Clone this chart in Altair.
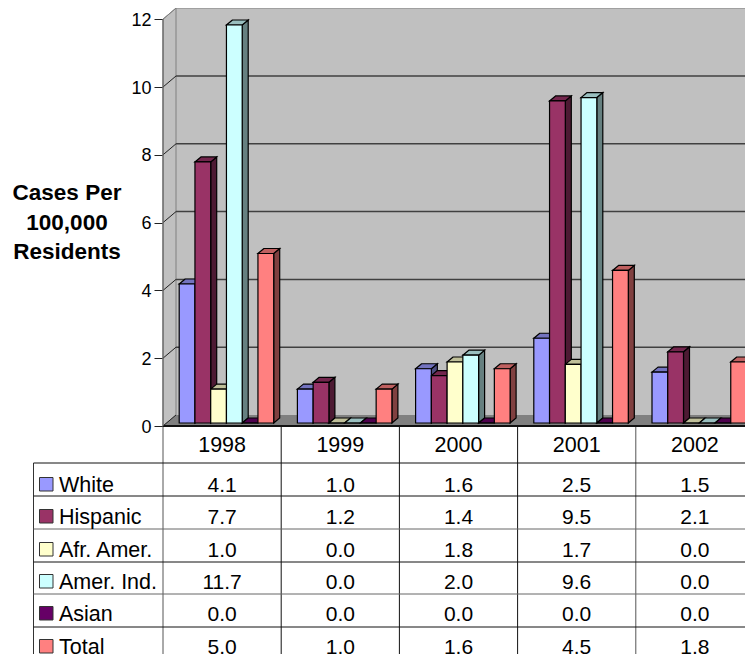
import altair as alt
import pandas as pd

# ---------- data ----------
years = ["1998", "1999", "2000", "2001", "2002"]
series = ["White", "Hispanic", "Afr. Amer.", "Amer. Ind.", "Asian", "Total"]
white = [4.1, 1.0, 1.6, 2.5, 1.5]
hispanic = [7.7, 1.2, 1.4, 9.5, 2.1]
afr_amer = [1.0, 0.0, 1.8, 1.73, 0.0]
amer_ind = [11.74, 0.0, 2.0, 9.6, 0.0]
asian = [0.0, 0.0, 0.0, 0.0, 0.0]
total = [5.0, 1.0, 1.6, 4.5, 1.8]
values = [white, hispanic, afr_amer, amer_ind, asian, total]
front_colors = ["#9999FF", "#993366", "#FFFFCC", "#CCFFFF", "#660066", "#FF8080"]
top_colors = ["#7373BF", "#73264D", "#BFBF99", "#99BFBF", "#4D004D", "#BF6060"]
side_colors = ["#4D4D80", "#4D1A33", "#808066", "#668080", "#330033", "#804040"]
y_ticks = [0, 2, 4, 6, 8, 10, 12]
title_lines = ["Cases Per", "100,000", "Residents"]

# ---------- layout (screen pixels converted to scale units) ----------
FONT = "Liberation Sans"
X0, Y0, PPU = 163, 426, 33.9
VIEW_W, VIEW_H = 582, 418
def hx(px): return px - X0
def vy(py): return (Y0 - py) / PPU

y_axis = alt.Axis(
    values=y_ticks, title=None, domain=False, grid=False, tickSize=9,
    tickColor="#222222", tickWidth=1, labelFont=FONT, labelFontSize=18,
    labelColor="black", labelPadding=3, labelOffset=1, format="d")
x_scale = alt.Scale(domain=[0, VIEW_W], range=[0, VIEW_W], nice=False, zero=False)
y_scale = alt.Scale(domain=[0, VIEW_H / PPU], range=[VIEW_H, 0], nice=False, zero=False)
X = lambda f: alt.X(f, type="quantitative", scale=x_scale, axis=None)
Y = lambda f: alt.Y(f, type="quantitative", scale=y_scale, axis=y_axis)

COL_W = 118.2
BAR_W = 15.75
GROUP_PAD = 16.2
BAR_BASE = 3 / PPU
DX, DY = 6, 5 / PPU
WALL_DX, WALL_DY = 13, 11 / PPU
RIGHT = hx(760)

fronts, sides, tops = [], [], []
for i, _ in enumerate(years):
    for s, vals in enumerate(values):
        x0 = i * COL_W + GROUP_PAD + s * BAR_W
        x1 = x0 + BAR_W
        yb, yt = BAR_BASE, BAR_BASE + vals[i]
        key = f"{i}-{s}"
        fronts.append(dict(x0=x0, x1=x1, yb=yb, yt=yt, c=front_colors[s]))
        sides.append(dict(k=key, x=x1, yb=yb, yt=yt, c=side_colors[s]))
        sides.append(dict(k=key, x=x1 + DX, yb=yb + DY, yt=yt + DY, c=side_colors[s]))
        tops.append(dict(k=key, y=yt, xa=x0, xb=x1, c=top_colors[s]))
        tops.append(dict(k=key, y=yt + DY, xa=x0 + DX, xb=x1 + DX, c=top_colors[s]))

# ---------- walls ----------
back_wall = alt.Chart(pd.DataFrame([dict(a=WALL_DX, b=RIGHT, c=WALL_DY, d=vy(8))])).mark_rect(
    color="#C0C0C0").encode(x=X("a"), x2="b", y=Y("c"), y2="d")

left_wall = alt.Chart(pd.DataFrame([
    dict(x=0, a=0, b=12), dict(x=WALL_DX, a=WALL_DY, b=vy(8))])).mark_area(
    color="#C0C0C0", stroke="#808080", strokeWidth=1).encode(x=X("x"), y=Y("a"), y2="b")

floor = alt.Chart(pd.DataFrame([
    dict(x=0, a=0, b=0), dict(x=WALL_DX, a=0, b=WALL_DY), dict(x=RIGHT, a=0, b=WALL_DY)])).mark_area(
    color="#808080").encode(x=X("x"), y=Y("a"), y2="b")

grid = alt.Chart(pd.DataFrame([
    dict(a=WALL_DX, b=RIGHT, y=t + WALL_DY) for t in y_ticks[1:-1]])).mark_rule(
    color="#404040", strokeWidth=1.5).encode(x=X("a"), x2="b", y=Y("y"))
top_edge = alt.Chart(pd.DataFrame([dict(a=WALL_DX, b=RIGHT, y=vy(8))])).mark_rule(
    color="#808080", strokeWidth=1.2).encode(x=X("a"), x2="b", y=Y("y"))

slant_rows = []
for t in y_ticks[:-1]:
    slant_rows += [dict(k=t, x=0, y=t), dict(k=t, x=WALL_DX, y=t + WALL_DY)]
slants = alt.Chart(pd.DataFrame(slant_rows)).mark_line(color="#222222", strokeWidth=1).encode(
    x=X("x"), y=Y("y"), detail="k:N")
slant_top = alt.Chart(pd.DataFrame([dict(x=0, y=12), dict(x=WALL_DX, y=12 + WALL_DY)])).mark_line(
    color="#808080", strokeWidth=1).encode(x=X("x"), y=Y("y"))

# ---------- 3-D bars ----------
STROKE = "#000000"
BAR_SW = 1.2
side_layer = alt.Chart(pd.DataFrame(sides)).mark_area(stroke=STROKE, strokeWidth=BAR_SW, opacity=1).encode(
    x=X("x"), y=Y("yb"), y2="yt", fill=alt.Fill("c:N", scale=None), detail="k:N")
top_layer = alt.Chart(pd.DataFrame(tops)).mark_area(
    orient="horizontal", stroke=STROKE, strokeWidth=BAR_SW, opacity=1).encode(
    y=Y("y"), x=X("xa"), x2="xb", fill=alt.Fill("c:N", scale=None), detail="k:N")
front_layer = alt.Chart(pd.DataFrame(fronts)).mark_rect(stroke=STROKE, strokeWidth=BAR_SW).encode(
    x=X("x0"), x2="x1", y=Y("yb"), y2="yt", fill=alt.Fill("c:N", scale=None))

# ---------- data table ----------
col_lines = [X0 + i * COL_W for i in range(6)]
row_lines = [463, 496, 529, 562, 594, 627]
row_centers = [484, 516, 549, 581, 613, 646]
TEXT_DY = 1.5
BOTTOM = vy(660)

v_rows = [dict(x=hx(col_lines[i]), a=vy(426), b=BOTTOM, s=("#555555" if i in (0, 4) else "#111111"))
          for i in range(5)]
v_rows.append(dict(x=hx(33.5), a=vy(463), b=BOTTOM, s="#333333"))
v_lines = alt.Chart(pd.DataFrame(v_rows)).mark_rule(strokeWidth=1).encode(
    x=X("x"), y=Y("a"), y2="b", stroke=alt.Stroke("s:N", scale=None))

h_rows = [dict(a=hx(33.5), b=RIGHT, y=vy(p), s=("#666666" if p in (529, 594) else "#111111"))
          for p in row_lines]
h_lines = alt.Chart(pd.DataFrame(h_rows)).mark_rule(strokeWidth=1).encode(
    x=X("a"), x2="b", y=Y("y"), stroke=alt.Stroke("s:N", scale=None))

axis_line = alt.Chart(pd.DataFrame([dict(a=0, b=RIGHT, y=0)])).mark_rule(
    color="#111111", strokeWidth=2).encode(x=X("a"), x2="b", y=Y("y"))
left_edge = alt.Chart(pd.DataFrame([dict(x=0, a=0, b=12)])).mark_rule(
    color="#666666", strokeWidth=1.2).encode(x=X("x"), y=Y("a"), y2="b")

year_text = alt.Chart(pd.DataFrame([
    dict(x=hx(col_lines[i]) + COL_W / 2, y=vy(446), t=years[i]) for i in range(5)])).mark_text(
    font=FONT, fontSize=21.5, color="black", align="center", baseline="middle").encode(
    x=X("x"), y=Y("y"), text="t:N")

cell_rows = []
for r, vals in enumerate(values):
    for i, val in enumerate(vals):
        cell_rows.append(dict(x=hx(col_lines[i]) + COL_W / 2, y=vy(row_centers[r]), t=f"{val:.1f}"))
cell_text = alt.Chart(pd.DataFrame(cell_rows)).mark_text(
    font=FONT, fontSize=21, dy=TEXT_DY, color="black", align="center", baseline="middle").encode(
    x=X("x"), y=Y("y"), text="t:N")

name_text = alt.Chart(pd.DataFrame([
    dict(x=hx(59), y=vy(row_centers[r]), t=series[r]) for r in range(6)])).mark_text(
    font=FONT, fontSize=21.5, dy=TEXT_DY, color="black", align="left", baseline="middle").encode(
    x=X("x"), y=Y("y"), text="t:N")

keys = alt.Chart(pd.DataFrame([
    dict(a=hx(39.5), b=hx(53), yb=vy(row_centers[r] + 7), yt=vy(row_centers[r] - 6.5), c=front_colors[r])
    for r in range(6)])).mark_rect(stroke="#333333", strokeWidth=1).encode(
    x=X("a"), x2="b", y=Y("yb"), y2="yt", fill=alt.Fill("c:N", scale=None))

title_text = alt.Chart(pd.DataFrame([
    dict(x=hx(67), y=vy(p), t=t) for p, t in zip([193, 223, 252], title_lines)])).mark_text(
    font=FONT, fontSize=22.5, fontWeight="bold", color="black", align="center", baseline="middle").encode(
    x=X("x"), y=Y("y"), text="t:N")

chart = alt.layer(
    back_wall, left_wall, floor, grid, top_edge, slants, slant_top,
    side_layer, top_layer, front_layer,
    v_lines, h_lines, axis_line, left_edge,
    year_text, cell_text, name_text, keys, title_text,
).properties(
    width=VIEW_W, height=VIEW_H,
    padding={"left": 155, "top": 0, "right": 0, "bottom": 228},
    autosize=alt.AutoSizeParams(type="none"),
    background="white",
).configure_view(stroke=None)

chart.save("out.html", embed_options={"renderer": "svg", "actions": False})
